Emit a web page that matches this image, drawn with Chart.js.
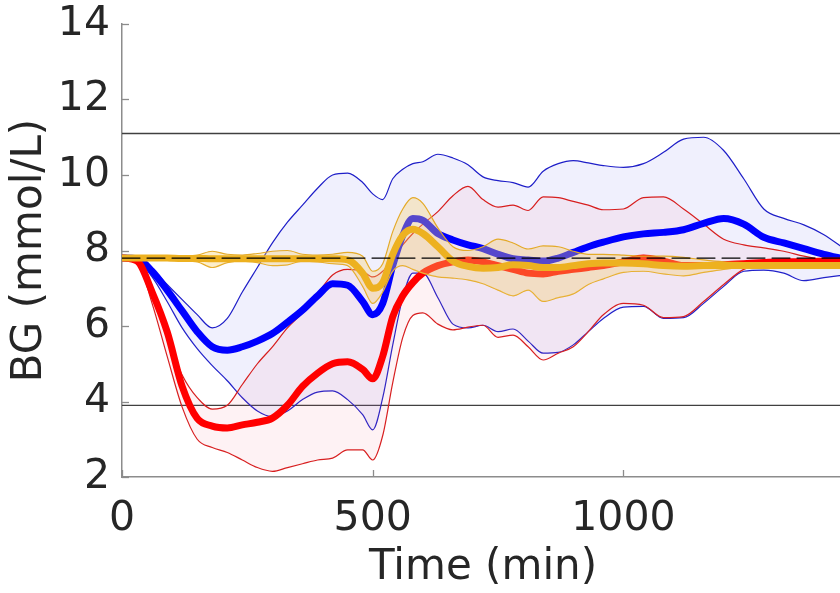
<!DOCTYPE html>
<html><head><meta charset="utf-8">
<script src="https://cdn.jsdelivr.net/npm/chart.js@4"></script>
<style>html,body{margin:0;padding:0;background:#fff;overflow:hidden;width:840px;height:593px}</style>
</head><body>
<canvas id="c" width="844" height="593" style="width:844px;height:593px;display:block"></canvas>
<script>
// ---- data ----
const time = [0,30,60,90,120,150,180,210,240,270,300,330,360,390,420,450,480,500,520,540,560,580,600,630,660,690,720,750,780,810,840,870,900,930,960,1000,1040,1080,1120,1160,1200,1240,1280,1320,1360,1400,1440];
const blueMedian = [7.8,7.78,7.45,6.95,6.4,5.85,5.45,5.36,5.45,5.6, 5.8,6.1,6.42,6.8,7.12,7.08,6.65, 6.3,6.6,7.6,8.4,8.85,8.8, 8.45,8.28,8.15,8.05,7.9,7.78,7.75,7.72,7.8,7.95,8.1,8.22, 8.36,8.44,8.48,8.55,8.72,8.85,8.7,8.35,8.2,8.05,7.9,7.78];
const blueUpper = [7.8,7.75,7.5,7.1,6.7,6.3,5.95,6.2,6.9,7.55, 8.2,8.75,9.2,9.65,10.0,10.05,9.8, 9.5,9.35,9.9,10.15,10.3,10.35, 10.55,10.45,10.27,9.95,9.85,9.8,9.68,10.1,10.3,10.38,10.32,10.25, 10.2,10.3,10.6,10.95,11.0,10.65,9.9,9.1,8.85,8.68,8.42,8.05];
const blueLower = [7.8,7.75,7.3,6.65,5.95,5.4,4.95,4.55,4.1,3.75, 3.6,3.75,4.05,4.25,4.28,4.05,3.65, 3.25,4.1,5.5,6.75,7.4,7.4, 6.75,6.05,5.95,6.02,5.85,5.92,5.6,5.28,5.3,5.5,5.85,6.2, 6.5,6.52,6.2,6.22,6.6,7.05,7.45,7.48,7.4,7.2,7.28,7.35];
const redMedian = [7.8,7.72,6.9,5.85,4.4,3.55,3.35,3.3,3.38,3.45, 3.56,3.9,4.4,4.75,5.0,5.05,4.85, 4.6,5.2,6.25,6.8,7.15,7.4, 7.6,7.7,7.75,7.7,7.6,7.5,7.4,7.38,7.45,7.5,7.55,7.6, 7.7,7.8,7.72,7.6,7.6,7.62,7.65,7.68,7.7,7.7,7.72,7.72];
const redUpper = [7.8,7.7,6.85,5.7,4.7,4.1,3.8,3.9,4.45,5.0, 5.45,5.95,6.35,6.85,7.35,7.5,7.45, 7.3,7.45,7.8,8.15,8.45,8.7, 9.03,9.45,9.7,9.35,9.15,9.2,9.06,9.42,9.4,9.3,9.2,9.08, 9.1,9.4,9.42,9.1,8.7,8.3,8.15,8.07,7.98,7.85,7.75,7.68];
const redLower = [7.8,7.7,6.6,5.2,3.85,3.0,2.78,2.65,2.45,2.25, 2.15,2.25,2.35,2.45,2.5,2.72,2.72, 2.45,3.1,4.5,5.7,6.28,6.35, 6.05,5.9,5.97,6.02,5.7,5.76,5.45,5.1,5.28,5.45,5.85,6.3, 6.6,6.55,6.22,6.25,6.65,7.1,7.5,7.6,7.6,7.6,7.62,7.65];
const yellowMedian = [7.8,7.8,7.8,7.8,7.79,7.79,7.78,7.78,7.78,7.78, 7.78,7.78,7.78,7.78,7.78,7.75,7.4, 7.0,7.15,7.9,8.4,8.56,8.45, 8.1,7.72,7.58,7.53,7.55,7.62,7.6,7.55,7.55,7.6,7.65,7.67, 7.67,7.65,7.6,7.58,7.6,7.6,7.6,7.6,7.6,7.6,7.6,7.6];
const yellowUpper = [7.82,7.83,7.85,7.85,7.86,7.88,7.98,7.9,7.88,7.92, 7.98,8.0,7.9,7.88,7.9,7.95,7.85, 7.45,7.65,8.5,9.1,9.4,9.25, 8.6,8.1,8.0,8.1,8.3,8.2,8.04,8.12,8.1,7.98,7.9,7.9, 7.88,7.85,7.85,7.82,7.75,7.7,7.68,7.66,7.65,7.65,7.64,7.64];
const yellowLower = [7.78,7.76,7.75,7.74,7.72,7.7,7.55,7.68,7.72,7.68, 7.6,7.62,7.72,7.7,7.65,7.6,7.05, 6.6,6.9,7.45,7.6,7.5,7.4, 7.3,7.27,7.22,7.12,6.95,6.8,6.95,6.65,6.75,6.85,7.1,7.25, 7.42,7.45,7.38,7.33,7.42,7.5,7.55,7.57,7.57,7.57,7.57,7.57];
const targetBG = 7.8;
const hyperBG = 11.1;
const hypoBG = 3.9;
const xRange = [0, 1440];
const yRange = [2, 14];
const xTicks = [0, 500, 1000];
const yTicks = [2, 4, 6, 8, 10, 12, 14];
const xTitle = 'Time (min)';
const yTitle = 'BG (mmol/L)';

// ---- build ----
const pts = arr => time.map((t, i) => ({x: t, y: arr[i]}));
const hline = v => xRange.map(t => ({x: t, y: v}));
const FONT = 'DejaVu Sans';
const TXT = '#262626';
const AX = '#8c8c8c';

const base = {pointRadius: 0, borderCapStyle: 'round', borderJoinStyle: 'round', cubicInterpolationMode: 'monotone', fill: false};
const datasets = [
  {...base, data: hline(targetBG), borderColor: '#000', borderWidth: 1.2, borderDash: [18, 7], order: 0, cubicInterpolationMode: 'default', tension: 0},
  {...base, data: pts(yellowMedian), borderColor: 'rgb(237,177,32)', borderWidth: 7, order: 1},
  {...base, data: pts(yellowUpper), borderColor: 'rgb(228,170,40)', borderWidth: 1.2, order: 2, fill: {target: 3, above: 'rgba(245,205,110,0.35)', below: 'rgba(245,205,110,0.35)'}},
  {...base, data: pts(yellowLower), borderColor: 'rgb(228,170,40)', borderWidth: 1.2, order: 3},
  {...base, data: pts(redMedian), borderColor: '#ff0000', borderWidth: 7, order: 4},
  {...base, data: pts(blueMedian), borderColor: '#0000ff', borderWidth: 7, order: 5},
  {...base, data: pts(redUpper), borderColor: 'rgb(215,30,30)', borderWidth: 1.2, order: 6, fill: {target: 7, above: 'rgba(240,90,110,0.08)', below: 'rgba(240,90,110,0.08)'}},
  {...base, data: pts(redLower), borderColor: 'rgb(215,30,30)', borderWidth: 1.2, order: 7},
  {...base, data: pts(blueUpper), borderColor: 'rgb(30,30,200)', borderWidth: 1.2, order: 8, fill: {target: 9, above: 'rgba(110,110,240,0.10)', below: 'rgba(110,110,240,0.10)'}},
  {...base, data: pts(blueLower), borderColor: 'rgb(30,30,200)', borderWidth: 1.2, order: 9},
  {...base, data: hline(hyperBG), borderColor: '#404040', borderWidth: 1.3, order: 10, tension: 0},
  {...base, data: hline(hypoBG), borderColor: '#404040', borderWidth: 1.3, order: 11, tension: 0}
];

const innerTicks = {
  id: 'innerTicks',
  afterDraw(chart) {
    const {ctx, chartArea: a, scales: {x, y}} = chart;
    ctx.save();
    ctx.strokeStyle = AX; ctx.lineWidth = 1.3;
    y.ticks.forEach(t => { const p = Math.round(y.getPixelForValue(t.value)) + 0.5; ctx.beginPath(); ctx.moveTo(a.left, p); ctx.lineTo(a.left + 7, p); ctx.stroke(); });
    x.ticks.forEach(t => { const p = Math.round(x.getPixelForValue(t.value)) + 0.5; ctx.beginPath(); ctx.moveTo(p, a.bottom); ctx.lineTo(p, a.bottom - 7); ctx.stroke(); });
    ctx.restore();
  }
};

new Chart(document.getElementById('c'), {
  type: 'line',
  data: {datasets},
  plugins: [innerTicks],
  options: {
    responsive: false, animation: false, events: [],
    layout: {padding: {top: 24, right: 0, left: 0, bottom: 0}},
    plugins: {legend: {display: false}, tooltip: {enabled: false}},
    scales: {
      x: {
        type: 'linear', min: xRange[0], max: xRange[1],
        afterBuildTicks: s => { s.ticks = xTicks.map(v => ({value: v})); },
        afterFit: s => { s.height = 116; s.paddingLeft = 0; s.paddingRight = 0; },
        grid: {display: false, drawTicks: false},
        border: {display: true, color: AX, width: 1.5},
        ticks: {font: {family: FONT, size: 41}, color: TXT, padding: 18, maxRotation: 0, autoSkip: false, callback: v => String(v)},
        title: {display: true, text: xTitle, font: {family: FONT, size: 42}, color: TXT, padding: {top: 0, bottom: 0}}
      },
      y: {
        type: 'linear', min: yRange[0], max: yRange[1],
        afterBuildTicks: s => { s.ticks = yTicks.map(v => ({value: v})); },
        afterFit: s => { s.width = 122; s.paddingTop = 0; s.paddingBottom = 0; },
        grid: {display: false, drawTicks: false},
        border: {display: true, color: AX, width: 1.5},
        ticks: {font: {family: FONT, size: 41}, color: TXT, padding: 12, autoSkip: false, callback: v => String(v)},
        title: {display: true, text: yTitle, font: {family: FONT, size: 42}, color: TXT, padding: {top: 5, bottom: 0}}
      }
    }
  }
});
</script>
</body></html>
